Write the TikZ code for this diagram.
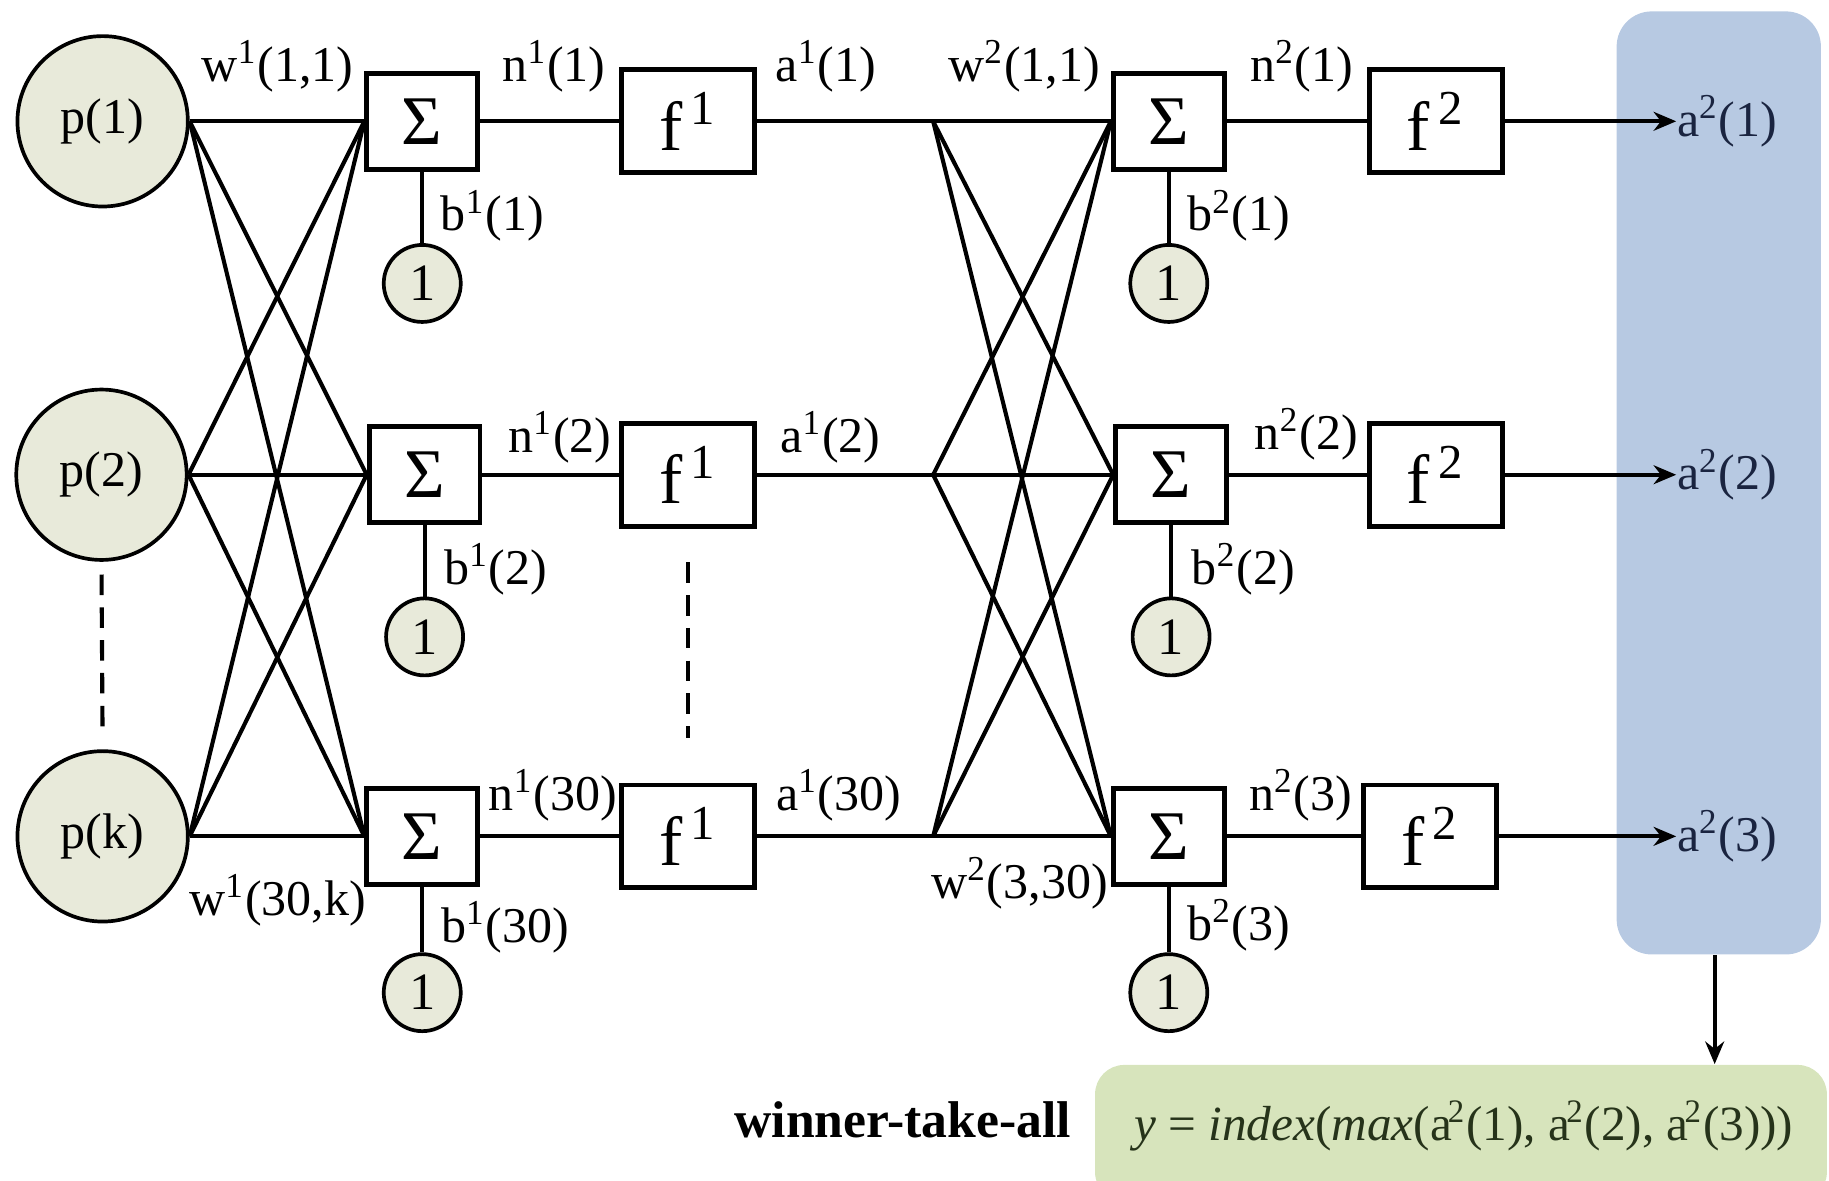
\documentclass[tikz,border=0pt]{standalone}
\usepackage{fontspec}
\setmainfont{Liberation Serif}
\usetikzlibrary{arrows.meta}
\definecolor{nodefill}{HTML}{E8EADA}
\definecolor{bluebox}{HTML}{B7C9E2}
\definecolor{greenbox}{HTML}{D7E4BC}
\definecolor{navytext}{HTML}{1A2440}
\definecolor{formtext}{HTML}{26331A}
\newcommand\mysqa{a\kern-0.08em\textsuperscript{2}}
\begin{document}
\begin{tikzpicture}[x=0.01cm,y=-0.01cm,
  every node/.style={font=\fontsize{12.2}{14}\selectfont},
  inpt/.style={circle,draw,line width=0.9pt,fill=nodefill,minimum size=1.46cm,inner sep=0pt},
  sumbox/.style={draw,line width=1.2pt,minimum width=0.95cm,minimum height=0.82cm,inner sep=0pt,fill=white,font=\fontsize{17}{20}\selectfont},
  actbox/.style={draw,line width=1.2pt,minimum width=1.14cm,minimum height=0.88cm,inner sep=0pt,fill=white,font=\fontsize{17}{20}\selectfont},
  one/.style={circle,draw,line width=0.9pt,fill=nodefill,minimum size=0.66cm,inner sep=0pt,font=\fontsize{12.8}{14}\selectfont},
  wire/.style={line width=1.0pt},
  lbl/.style={inner sep=0pt},
  outlbl/.style={inner sep=0pt,anchor=west,text=navytext},
  tip/.style={-{Stealth[length=5.5pt,width=4.6pt]}},
  dotted gap/.style={wire,dash pattern=on 5pt off 3pt},
]
\useasboundingbox (0,0) rectangle (1568,1012);
\clip (0,0) rectangle (1568,1012);

% background panels
\node[fill=bluebox,rounded corners=0.3cm,minimum width=1.75cm,minimum height=8.08cm,inner sep=0pt] (blue) at (1473.5,414) {};
\node[fill=greenbox,rounded corners=0.25cm,minimum width=6.27cm,minimum height=1.17cm,inner sep=0pt] (green) at (1252.5,971.5) {};

% junction coordinates
\coordinate (j1) at (800,104);
\coordinate (j2) at (800,407);
\coordinate (j3) at (800,717);

% inputs
\node[inpt] (p1) at (88,104) {p(1)};
\node[inpt] (p2) at (87,407) {p(2)};
\node[inpt] (pk) at (88,717) {p(k)};

% layer 1
\node[sumbox] (s11) at (362,104) {Σ};
\node[sumbox] (s12) at (364,407) {Σ};
\node[sumbox] (s13) at (362,717) {Σ};
\node[one] (o11) at (362,243) {1};
\node[one] (o12) at (364,546) {1};
\node[one] (o13) at (362,851) {1};
\node[actbox] (f11) at (590,104) {f\kern0.12em\textsuperscript{1}};
\node[actbox] (f12) at (590,407) {f\kern0.12em\textsuperscript{1}};
\node[actbox] (f13) at (590,717) {f\kern0.12em\textsuperscript{1}};

% layer 2
\node[sumbox] (s21) at (1002,104) {Σ};
\node[sumbox] (s22) at (1004,407) {Σ};
\node[sumbox] (s23) at (1002,717) {Σ};
\node[one] (o21) at (1002,243) {1};
\node[one] (o22) at (1004,546) {1};
\node[one] (o23) at (1002,851) {1};
\node[actbox] (f21) at (1231,104) {f\kern0.12em\textsuperscript{2}};
\node[actbox] (f22) at (1231,407) {f\kern0.12em\textsuperscript{2}};
\node[actbox] (f23) at (1226,717) {f\kern0.12em\textsuperscript{2}};

% outputs
\node[outlbl] (a21) at (1437,104) {a\textsuperscript{2}(1)};
\node[outlbl] (a22) at (1437,407) {a\textsuperscript{2}(2)};
\node[outlbl] (a23) at (1437,717) {a\textsuperscript{2}(3)};

% connections layer 1
\foreach \p in {p1,p2,pk}{
  \foreach \s in {s11,s12,s13}{
    \draw[wire] (\p.east) -- (\s.west);
  }
}
\foreach \i in {1,2,3}{
  \draw[wire] (s1\i.south) -- (o1\i.north);
  \draw[wire] (s1\i.east) -- (f1\i.west);
  \draw[wire] (f1\i.east) -- (j\i);
  \draw[wire] (s2\i.south) -- (o2\i.north);
  \draw[wire] (s2\i.east) -- (f2\i.west);
  \draw[wire,tip] (f2\i.east) -- (a2\i.west);
}
\foreach \j in {j1,j2,j3}{
  \foreach \s in {s21,s22,s23}{
    \draw[wire] (\j) -- (\s.west);
  }
}

% dashed continuation marks
\draw[dotted gap,shorten <=3.1pt,shorten >=5.4pt] (p2.south) -- (pk.north);
\draw[dotted gap,shorten <=8.2pt,shorten >=10.8pt] (f12.south) -- (f13.north);

% labels
\node[lbl] at (238,57) {w\textsuperscript{1}(1,1)};
\node[lbl] at (475,57) {n\textsuperscript{1}(1)};
\node[lbl] at (708,57) {a\textsuperscript{1}(1)};
\node[lbl] at (878,57) {w\textsuperscript{2}(1,1)};
\node[lbl] at (1116,57) {n\textsuperscript{2}(1)};
\node[lbl] at (422,185) {b\textsuperscript{1}(1)};
\node[lbl] at (1062,185) {b\textsuperscript{2}(1)};

\node[lbl] at (480,375) {n\textsuperscript{1}(2)};
\node[lbl] at (712,375) {a\textsuperscript{1}(2)};
\node[lbl] at (1120,372) {n\textsuperscript{2}(2)};
\node[lbl] at (425,488) {b\textsuperscript{1}(2)};
\node[lbl] at (1066,488) {b\textsuperscript{2}(2)};

\node[lbl] at (238,772) {w\textsuperscript{1}(30,k)};
\node[lbl] at (474,682) {n\textsuperscript{1}(30)};
\node[lbl] at (719,682) {a\textsuperscript{1}(30)};
\node[lbl] at (874,757) {w\textsuperscript{2}(3,30)};
\node[lbl] at (1115,682) {n\textsuperscript{2}(3)};
\node[lbl] at (433,795) {b\textsuperscript{1}(30)};
\node[lbl] at (1062,793) {b\textsuperscript{2}(3)};

% winner-take-all
\draw[wire,tip] (blue.south -| 1470,0) -- (green.north -| 1470,0);
\node[lbl,font=\fontsize{12.6}{14}\selectfont\bfseries] (wta) at (774,960) {winner-take-all};
\node[lbl,text=formtext,font=\fontsize{12}{14}\selectfont] (form) at (1255,965) {\textit{y} = \textit{index}(\textit{max}(\mysqa(1), \mysqa(2), \mysqa(3)))};
\end{tikzpicture}
\end{document}
